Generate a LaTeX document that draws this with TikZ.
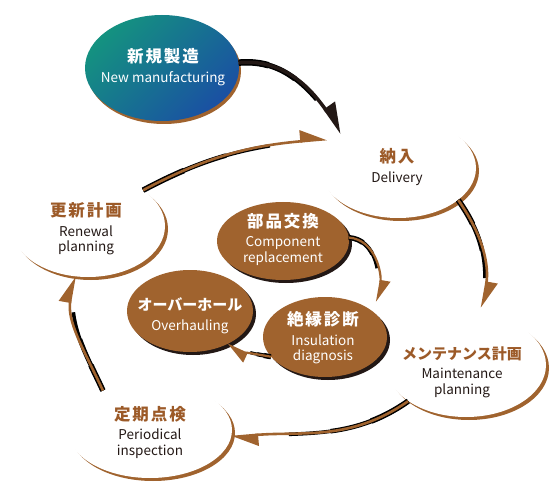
\documentclass[tikz,border=0pt]{standalone}
\usepackage{fontspec}
\setmainfont{Noto Sans CJK JP}
\usetikzlibrary{arrows.meta,shapes.geometric,shadows}
\definecolor{brn}{RGB}{160,99,46}
\definecolor{tbrn}{RGB}{156,90,40}
\definecolor{ink}{RGB}{35,24,21}
\definecolor{tealc}{RGB}{20,146,128}
\definecolor{bluec}{RGB}{26,80,163}
\newcommand\jtitle[1]{{\fontsize{16.5}{19}\selectfont\bfseries\addfontfeature{LetterSpace=12}#1}}
\newcommand\ktitle[1]{{\fontsize{15}{18}\selectfont\bfseries #1}}
\tikzset{
  white ell/.style={ellipse, fill=white, inner sep=0pt,
    drop shadow={shadow xshift=3pt, shadow yshift=-3pt, fill=brn, opacity=1}},
  brown ell/.style={ellipse, fill=brn, inner sep=0pt,
    drop shadow={shadow xshift=3pt, shadow yshift=-3pt, fill=ink, opacity=1}},
  blue ell/.style={ellipse, inner sep=0pt, top color=tealc, bottom color=bluec, shading angle=45,
    drop shadow={shadow xshift=2pt, shadow yshift=-3pt, fill=brn, opacity=1}},
  txt/.style={align=center, inner sep=0pt, font=\fontsize{13.5}{15.5}\selectfont},
  darktxt/.style={txt, text=ink},
  lighttxt/.style={txt, text=white},
  taper/.style n args={4}{line width=#1,
    preaction={draw, -, line width=#1+1pt, dash pattern=on #4 off 3000pt},
    preaction={draw, -, line width=#1+2pt, dash pattern=on #3 off 3000pt},
    preaction={draw, -, line width=#1+3pt, dash pattern=on #2 off 3000pt}},
  barrow/.style={color=brn, -{Triangle[length=24pt,width=22pt,left]}},
  iarrow/.style={color=brn, -{Triangle[length=20pt,width=19pt,left]}},
  karrow/.style={color=ink, -{Triangle[length=26pt,width=24pt,left]}},
}
\begin{document}
\begin{tikzpicture}[x=1pt,y=1pt]
\useasboundingbox (0,0) rectangle (550,-503);
% ellipses
\node[blue ell, minimum width=154pt, minimum height=106pt] (newm) at (162,-68) {};
\node[white ell, minimum width=156pt, minimum height=100pt] (deliv) at (398,-168) {};
\node[white ell, minimum width=160pt, minimum height=104pt] (maint) at (466,-365) {};
\node[white ell, minimum width=164pt, minimum height=96pt] (period) at (150,-430) {};
\node[white ell, minimum width=154pt, minimum height=102pt] (renew) at (88,-226) {};
\node[brown ell, minimum width=132pt, minimum height=78pt] (parts) at (283,-241) {};
\node[brown ell, minimum width=126pt, minimum height=82pt] (overh) at (190,-311) {};
\node[brown ell, minimum width=124pt, minimum height=80pt] (insul) at (325,-337) {};
% texts
\node[lighttxt] (newm-t) at (163,-67) {\jtitle{新規製造}\\[4pt]New manufacturing};
\node[darktxt] (deliv-t) at (397,-167) {\textcolor{tbrn}{\jtitle{納入}}\\[4pt]Delivery};
\node[darktxt] (renew-t) at (86,-229) {\textcolor{tbrn}{\jtitle{更新計画}}\\[4pt]Renewal\\planning};
\node[darktxt] (maint-t) at (462,-372) {\textcolor{tbrn}{\ktitle{メンテナンス計画}}\\[4pt]Maintenance\\planning};
\node[darktxt] (period-t) at (150,-432) {\textcolor{tbrn}{\jtitle{定期点検}}\\[4pt]Periodical\\inspection};
\node[lighttxt] (parts-t) at (283,-239) {\jtitle{部品交換}\\[4pt]Component\\replacement};
\node[lighttxt] (overh-t) at (190,-316) {\ktitle{オーバーホール}\\[4pt]Overhauling};
\node[lighttxt] (insul-t) at (323,-338) {\jtitle{絶縁診断}\\[4pt]Insulation\\diagnosis};
% arrows
\draw[karrow, taper={3.5pt}{30pt}{60pt}{90pt}] (newm.4) to[out=5,in=125] (deliv.148);
\coordinate (deliv-in) at (327,-139);
\draw[barrow, taper={2.6pt}{45pt}{90pt}{135pt}] (renew.33) to[out=28,in=185] (deliv-in);
\coordinate (maint-in) at (482,-308);
\draw[barrow, taper={2.6pt}{28pt}{56pt}{84pt}] (deliv.-28) to[out=-55,in=80] (maint-in);
\draw[barrow, taper={2.6pt}{42pt}{84pt}{126pt}] (maint.-148) to[out=215,in=5] (period.-5);
\draw[barrow, taper={2.6pt}{28pt}{56pt}{84pt}] (period.140) to[out=115,in=-100] (renew.-105);
\coordinate (insul-in) at (377,-302);
\draw[iarrow, taper={2.2pt}{15pt}{30pt}{45pt}] (parts.3) to[out=-5,in=80] (insul-in);
\draw[iarrow, taper={2.2pt}{7pt}{14pt}{21pt}] (insul.-160) to[out=170,in=-25] (overh.-42);
\end{tikzpicture}
\end{document}
